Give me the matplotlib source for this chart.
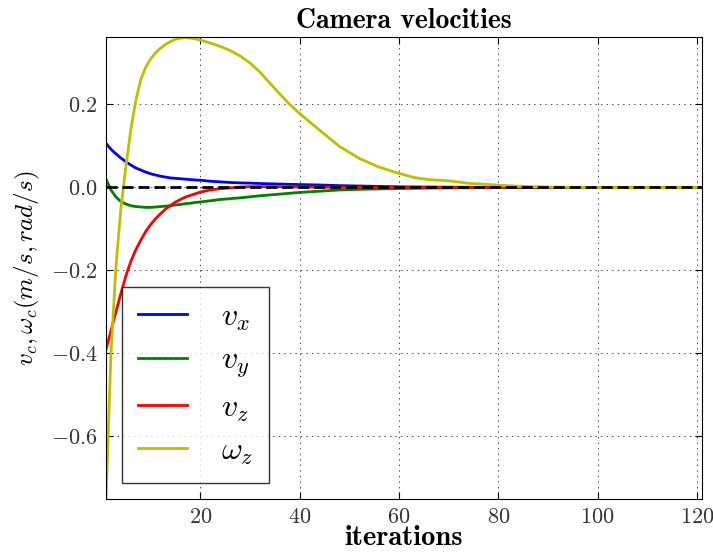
import matplotlib
matplotlib.use('Agg')
import matplotlib.pyplot as plt

plt.rcParams['font.family'] = 'serif'
plt.rcParams['font.serif'] = ['cmr10']
plt.rcParams['mathtext.fontset'] = 'cm'
plt.rcParams['axes.formatter.use_mathtext'] = True
plt.rcParams['axes.unicode_minus'] = True
plt.rcParams['lines.scale_dashes'] = False

# sample iterations and the velocity read at each of them
iters = [1, 2, 3, 4, 5, 6, 7, 8, 9, 10, 11, 12, 13, 14, 15, 16, 17, 18, 19, 20,
         22, 24, 26, 28, 30, 32, 35, 38, 40, 44, 48, 52, 56, 60, 63, 66, 68, 70,
         72, 74, 77, 80, 84, 90, 100, 110, 121]

vx = [0.106, 0.092, 0.081, 0.071, 0.062, 0.054, 0.047, 0.042, 0.037, 0.033,
      0.030, 0.027, 0.025, 0.023, 0.022, 0.021, 0.020, 0.019, 0.018, 0.0175,
      0.015, 0.0135, 0.012, 0.011, 0.0105, 0.0095, 0.0085, 0.0075, 0.007, 0.006,
      0.0045, 0.0035, 0.0025, 0.0015, 0.0012, 0.001, 0.0008, 0.0007, 0.0006,
      0.0005, 0.0004, 0.0003, 0.0002, 0.0001, 0.0, 0.0, 0.0]

vy = [0.020, -0.006, -0.023, -0.034, -0.040, -0.044, -0.046, -0.047, -0.048, -0.048,
      -0.047, -0.046, -0.045, -0.044, -0.042, -0.041, -0.039, -0.038, -0.036, -0.035,
      -0.032, -0.029, -0.027, -0.025, -0.0225, -0.020, -0.017, -0.014, -0.012, -0.009,
      -0.006, -0.0045, -0.0035, -0.0025, -0.002, -0.0015, -0.0012, -0.001, -0.0008,
      -0.0007, -0.0005, -0.0004, -0.0003, -0.0001, 0.0, 0.0, 0.0]

vz = [-0.390, -0.345, -0.300, -0.255, -0.213, -0.178, -0.150, -0.127, -0.106, -0.089,
      -0.075, -0.063, -0.052, -0.043, -0.035, -0.029, -0.023, -0.019, -0.015, -0.011,
      -0.006, -0.003, -0.001, 0.001, 0.002, 0.002, 0.002, 0.0015, 0.0012, 0.001,
      0.0008, 0.0005, 0.0004, 0.0003, 0.0002, 0.0002, 0.0001, 0.0001, 0.0, 0.0,
      0.0, 0.0, 0.0, 0.0, 0.0, 0.0, 0.0]

wz = [-0.750, -0.400, -0.190, -0.050, 0.050, 0.140, 0.210, 0.260, 0.290, 0.310,
      0.325, 0.336, 0.345, 0.352, 0.357, 0.360, 0.361, 0.360, 0.358, 0.355,
      0.348, 0.340, 0.330, 0.317, 0.300, 0.278, 0.238, 0.200, 0.178, 0.138,
      0.099, 0.070, 0.049, 0.034, 0.024, 0.019, 0.0175, 0.016, 0.013, 0.010,
      0.008, 0.0055, 0.003, 0.001, 0.0, 0.0, 0.0]

labels = [r'$v_x$', r'$v_y$', r'$v_z$', r'$\omega_z$']
colors = ['#0000ff', '#008000', '#ff0000', '#bfbf00']

fig = plt.figure(figsize=(7.13, 5.52), dpi=100)
ax = fig.add_axes([0.1487, 0.0966, 0.8359, 0.8359])

for series, lab, c in zip([vx, vy, vz, wz], labels, colors):
    ax.plot(iters, series, color=c, lw=2, label=lab)

ax.axhline(0, color='k', lw=2, dashes=(8, 3.5))

ax.set_xlim(1, 121)
ax.set_ylim(-0.75, 0.362)
ax.set_xticks([20, 40, 60, 80, 100, 120])
ax.set_yticks([-0.6, -0.4, -0.2, 0.0, 0.2])
ax.grid(True, color='k', lw=0.5, dashes=(1, 3))
ax.tick_params(direction='in', top=True, right=True, length=5, labelsize=16,
               pad=6, labelcolor='#333333')

ax.set_title('Camera velocities', fontfamily='cmb10', fontsize=20, pad=7)
ax.set_xlabel('iterations', fontfamily='cmb10', fontsize=20.5, labelpad=-1)
ax.set_ylabel(r'$v_c, \omega_c (m/s, rad/s)$', fontsize=18, labelpad=6)

leg = ax.legend(loc='lower left', fontsize=23, handlelength=1.55,
                handletextpad=1.05, labelspacing=0.42, borderpad=0.5,
                borderaxespad=0.5, fancybox=False)
leg.get_frame().set_edgecolor('k')
leg.get_frame().set_linewidth(1.0)

fig.savefig('out.png', dpi=100)
